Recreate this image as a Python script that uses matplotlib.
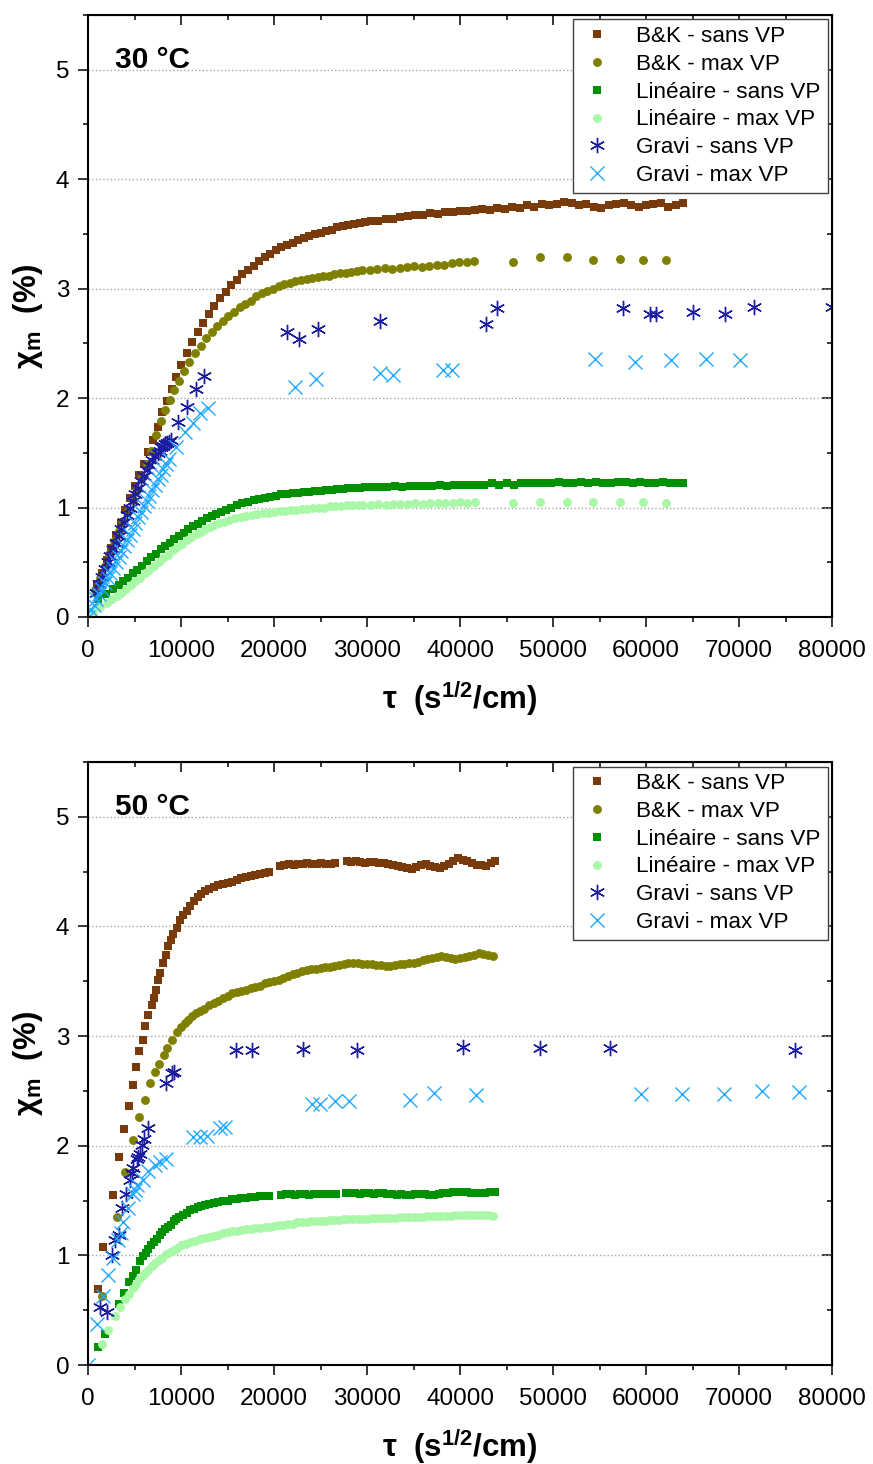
import matplotlib
matplotlib.use('Agg')
import matplotlib.pyplot as plt
from matplotlib.ticker import MultipleLocator

plt.rcParams['font.family'] = ['Liberation Sans', 'DejaVu Sans']
plt.rcParams['mathtext.default'] = 'regular'

labels = ['B&K - sans VP', 'B&K - max VP', 'Linéaire - sans VP',
          'Linéaire - max VP', 'Gravi - sans VP', 'Gravi - max VP']

# ---------------- 30 °C ----------------
t_bk_sans_30 = [1000, 1500, 2000, 2500, 3000, 3500, 4000, 4500, 5000, 5500, 6000, 6500, 7000, 7500, 8000,
                8500, 9000, 9500, 10000, 10600, 11200, 11800, 12400, 13000, 13600, 14200, 14800, 15400,
                16000, 16600, 17200, 17800, 18400, 19000, 19600, 20200, 20800, 21400, 22000, 22600, 23200,
                23800, 24400, 25000, 25600, 26200, 26800, 27400, 28000, 28600, 29200, 29800, 30400, 31200,
                32000, 32800, 33600, 34400, 35200, 36000, 36800, 37600, 38400, 39200, 40000, 40800, 41600,
                42400, 43200, 44000, 44800, 45600, 46400, 47200, 48000, 48800, 49600, 50400, 51200, 52000,
                52800, 53600, 54400, 55200, 56000, 56800, 57600, 58400, 59200, 60000, 60800, 61600, 62400,
                63200, 64000]
chi_bk_sans_30 = [0.30, 0.40, 0.52, 0.63, 0.75, 0.86, 0.98, 1.09, 1.20, 1.30, 1.40, 1.51, 1.62, 1.74, 1.87,
                  1.97, 2.08, 2.19, 2.30, 2.41, 2.51, 2.60, 2.69, 2.77, 2.84, 2.91, 2.97, 3.03,
                  3.08, 3.13, 3.17, 3.21, 3.25, 3.29, 3.32, 3.35, 3.38, 3.40, 3.42, 3.44, 3.46,
                  3.48, 3.50, 3.51, 3.53, 3.54, 3.56, 3.57, 3.58, 3.59, 3.60, 3.61, 3.62, 3.62,
                  3.64, 3.64, 3.65, 3.66, 3.67, 3.67, 3.69, 3.68, 3.70, 3.70, 3.71, 3.71, 3.72,
                  3.73, 3.72, 3.74, 3.73, 3.75, 3.74, 3.76, 3.75, 3.77, 3.76, 3.77, 3.79, 3.78,
                  3.76, 3.77, 3.75, 3.74, 3.76, 3.77, 3.78, 3.76, 3.75, 3.76, 3.77, 3.78, 3.75,
                  3.76, 3.78]

t_bk_max_30 = [800, 1300, 1800, 2300, 2800, 3300, 3800, 4300, 4800, 5300, 5800, 6300, 6800, 7300, 7800,
               8300, 8800, 9300, 9800, 10300, 10900, 11500, 12100, 12700, 13300, 13900, 14500, 15100,
               15700, 16300, 16900, 17500, 18100, 18700, 19300, 19900, 20500, 21100, 21700, 22300, 22900,
               23500, 24100, 24700, 25300, 25900, 26500, 27100, 27700, 28300, 28900, 29500, 30300, 31100,
               31900, 32700, 33500, 34300, 35100, 35900, 36700, 37500, 38300, 39100, 39900, 40700, 41500,
               45700, 48600, 51500, 54300, 57200, 59700, 62100]
chi_bk_max_30 = [0.25, 0.36, 0.47, 0.58, 0.69, 0.79, 0.88, 0.97, 1.07, 1.16, 1.28, 1.40, 1.52, 1.66, 1.79,
                 1.89, 1.98, 2.07, 2.16, 2.25, 2.33, 2.41, 2.48, 2.55, 2.60, 2.66, 2.70, 2.75,
                 2.79, 2.83, 2.86, 2.89, 2.93, 2.96, 2.98, 3.00, 3.02, 3.04, 3.05, 3.07, 3.08,
                 3.09, 3.10, 3.11, 3.12, 3.12, 3.13, 3.14, 3.14, 3.15, 3.16, 3.17, 3.17, 3.18,
                 3.19, 3.18, 3.19, 3.20, 3.21, 3.20, 3.21, 3.22, 3.22, 3.23, 3.24, 3.24, 3.25,
                 3.24, 3.29, 3.29, 3.26, 3.27, 3.26, 3.26]

t_lin_sans_30 = [1100, 1900, 2700, 3300, 3800, 4300, 4800, 5300, 5800, 6300, 6800, 7300, 7800, 8300, 8800,
                 9300, 9800, 10300, 10800, 11300, 11800, 12300, 12800, 13300, 13800, 14300, 14800, 15400,
                 16000, 16600, 17200, 17800, 18400, 19000, 19600, 20200, 20800, 21400, 22000, 22600, 23200,
                 23800, 24400, 25000, 25600, 26200, 26800, 27400, 28000, 28600, 29200, 29800, 30600, 31400,
                 32200, 33000, 33800, 34600, 35400, 36200, 37000, 37800, 38600, 39400, 40200, 41000, 41800,
                 42600, 43400, 44200, 45000, 45800, 46600, 47400, 48200, 49000, 49800, 50600, 51400, 52200,
                 53000, 53800, 54600, 55400, 56200, 57000, 57800, 58600, 59400, 60200, 61000, 61800, 62600,
                 63400, 64000]
chi_lin_sans_30 = [0.16, 0.21, 0.26, 0.29, 0.33, 0.36, 0.40, 0.43, 0.47, 0.51, 0.55, 0.58, 0.62, 0.65, 0.68,
                   0.71, 0.74, 0.77, 0.80, 0.83, 0.85, 0.88, 0.90, 0.92, 0.94, 0.96, 0.98, 1.00,
                   1.02, 1.04, 1.05, 1.07, 1.08, 1.09, 1.10, 1.11, 1.12, 1.12, 1.13, 1.13, 1.14,
                   1.14, 1.15, 1.15, 1.16, 1.16, 1.17, 1.17, 1.18, 1.18, 1.18, 1.19, 1.19, 1.19,
                   1.19, 1.20, 1.19, 1.20, 1.20, 1.20, 1.20, 1.21, 1.20, 1.21, 1.21, 1.21, 1.21,
                   1.21, 1.22, 1.21, 1.22, 1.21, 1.22, 1.22, 1.22, 1.22, 1.22, 1.23, 1.22, 1.22,
                   1.23, 1.22, 1.23, 1.22, 1.22, 1.23, 1.23, 1.22, 1.23, 1.22, 1.22, 1.23, 1.22,
                   1.22, 1.22]

t_lin_max_30 = [500, 1300, 2000, 2600, 3100, 3600, 4100, 4600, 5100, 5600, 6100, 6600, 7100, 7600, 8100,
                8600, 9100, 9600, 10100, 10600, 11100, 11600, 12100, 12600, 13100, 13600, 14100, 14600,
                15200, 15800, 16400, 17000, 17600, 18200, 18800, 19400, 20000, 20600, 21200, 21800, 22400,
                23000, 23600, 24200, 24800, 25400, 26000, 26600, 27200, 27800, 28400, 29000, 29600, 30400,
                31200, 32000, 32800, 33600, 34400, 35200, 36000, 36800, 37600, 38400, 39200, 40000, 40800,
                41600, 45700, 48600, 51500, 54300, 57200, 59700, 62100]
chi_lin_max_30 = [0.05, 0.09, 0.13, 0.16, 0.19, 0.22, 0.26, 0.29, 0.33, 0.36, 0.40, 0.43, 0.47, 0.50, 0.54,
                  0.57, 0.61, 0.64, 0.67, 0.70, 0.73, 0.76, 0.78, 0.80, 0.82, 0.84, 0.86, 0.87,
                  0.89, 0.90, 0.91, 0.92, 0.93, 0.94, 0.95, 0.95, 0.96, 0.97, 0.97, 0.98, 0.98,
                  0.99, 0.99, 1.00, 1.00, 1.00, 1.01, 1.01, 1.01, 1.02, 1.02, 1.02, 1.02, 1.02,
                  1.03, 1.02, 1.03, 1.03, 1.03, 1.04, 1.03, 1.04, 1.04, 1.04, 1.04, 1.05, 1.04,
                  1.05, 1.04, 1.05, 1.05, 1.05, 1.05, 1.05, 1.045]

t_gravi_sans_30 = [900, 1200, 1500, 1800, 2100, 2400, 2700, 3000, 3300, 3600, 3900, 4200, 4500, 4800, 5100,
                   5400, 5700, 6000, 6300, 6600, 6900, 7200, 7500, 7700, 7900, 8100, 8300, 8500, 8700, 8900,
                   9700, 10650, 11600, 12500, 21400, 22700, 24700, 31400, 42800, 44000, 57500, 60400, 61100,
                   65000, 68500, 71600, 80000]
chi_gravi_sans_30 = [0.22, 0.30, 0.37, 0.44, 0.50, 0.56, 0.62, 0.68, 0.74, 0.80, 0.87, 0.93, 1.00, 1.06, 1.12,
                     1.18, 1.24, 1.29, 1.34, 1.39, 1.43, 1.47, 1.50, 1.52, 1.55, 1.56, 1.58, 1.59, 1.60, 1.62,
                     1.78, 1.92, 2.08, 2.20, 2.60, 2.54, 2.63, 2.70, 2.68, 2.82, 2.82, 2.77, 2.77,
                     2.79, 2.77, 2.83, 2.83]

t_gravi_max_30 = [0, 300, 600, 900, 1200, 1500, 1800, 2100, 2400, 2700, 3000, 3300, 3600, 3900, 4200,
                  4500, 4800, 5100, 5400, 5700, 6000, 6300, 6600, 6900, 7200, 7500, 7800, 8100, 8400, 8700,
                  9500, 10400, 11300, 12000, 12900, 22300, 24500, 31400, 32800, 38200, 39100, 54500, 58800,
                  62700, 66500, 70100]
chi_gravi_max_30 = [0.00, 0.06, 0.11, 0.16, 0.21, 0.26, 0.31, 0.36, 0.40, 0.45, 0.50, 0.55, 0.60, 0.65, 0.70,
                    0.75, 0.80, 0.86, 0.91, 0.96, 1.01, 1.06, 1.11, 1.16, 1.21, 1.26, 1.30, 1.35, 1.40, 1.44,
                    1.55, 1.69, 1.77, 1.86, 1.91, 2.10, 2.17, 2.23, 2.21, 2.26, 2.26, 2.36, 2.33,
                    2.35, 2.36, 2.35]

# ---------------- 50 °C ----------------
t_bk_sans_50 = [1110, 1650, 2720, 3370, 3870, 4370, 4800, 5160, 5520, 5880, 6160, 6480, 6840, 7090, 7310,
                7560, 7740, 8100, 8380, 8640, 8890, 9170, 9530, 9890, 10200, 10600, 11000, 11400, 11800,
                12200, 12600, 13000, 13500, 14000, 14500, 15000, 15500, 16000, 16500, 17000, 17500, 18000,
                18500, 19000, 19500, 20600, 21100, 21600, 22100, 22600, 23100, 23600, 24100, 24600, 25100,
                25600, 26100, 26600, 27800, 28300, 28800, 29300, 29800, 30300, 30800, 31300, 31800, 32300,
                32800, 33300, 33800, 34300, 34800, 35300, 35800, 36300, 36800, 37300, 37800, 38300, 38800,
                39300, 39800, 40300, 40800, 41300, 41800, 42300, 42800, 43300, 43800]
chi_bk_sans_50 = [0.69, 1.08, 1.55, 1.90, 2.15, 2.36, 2.55, 2.72, 2.86, 2.96, 3.09, 3.19, 3.28, 3.35, 3.42,
                  3.51, 3.58, 3.67, 3.74, 3.82, 3.88, 3.93, 3.99, 4.06, 4.10, 4.14, 4.19, 4.23, 4.27,
                  4.30, 4.32, 4.34, 4.36, 4.38, 4.39, 4.40, 4.41, 4.42, 4.44, 4.45, 4.46, 4.47,
                  4.48, 4.49, 4.50, 4.55, 4.56, 4.57, 4.56, 4.57, 4.57, 4.58, 4.57, 4.57, 4.58,
                  4.57, 4.57, 4.58, 4.60, 4.59, 4.60, 4.59, 4.58, 4.59, 4.59, 4.58, 4.58, 4.57,
                  4.56, 4.55, 4.54, 4.53, 4.52, 4.54, 4.56, 4.57, 4.55, 4.54, 4.53, 4.55, 4.57,
                  4.60, 4.62, 4.61, 4.60, 4.58, 4.56, 4.56, 4.55, 4.58, 4.60]

t_bk_max_50 = [1470, 3080, 3980, 4870, 5520, 6160, 6660, 7200, 7670, 8170, 8530, 9000, 9530, 10000, 10400,
               10800, 11200, 11600, 12000, 12500, 13000, 13500, 14000, 14500, 15000, 15500, 16000, 16500,
               17000, 17500, 18000, 18500, 19000, 19500, 20000, 20500, 21000, 21500, 22000, 22500, 23000,
               23500, 24000, 24500, 25000, 25500, 26000, 26500, 27000, 27500, 28000, 28500, 29000, 29500,
               30000, 30500, 31000, 31500, 32000, 32500, 33000, 33500, 34000, 34500, 35000, 35500, 36000,
               36500, 37000, 37500, 38000, 38500, 39000, 39500, 40000, 40500, 41000, 41500, 42000, 42500,
               43000, 43600]
chi_bk_max_50 = [0.63, 1.35, 1.76, 2.05, 2.26, 2.42, 2.57, 2.67, 2.75, 2.83, 2.89, 2.96, 3.04, 3.08, 3.12,
                 3.15, 3.18, 3.21, 3.23, 3.25, 3.28, 3.30, 3.32, 3.35, 3.37, 3.39, 3.40, 3.41,
                 3.42, 3.44, 3.45, 3.46, 3.48, 3.49, 3.50, 3.51, 3.53, 3.55, 3.57, 3.58, 3.59,
                 3.60, 3.61, 3.61, 3.62, 3.63, 3.63, 3.64, 3.65, 3.66, 3.67, 3.67, 3.67, 3.66,
                 3.66, 3.66, 3.65, 3.65, 3.64, 3.64, 3.65, 3.66, 3.66, 3.67, 3.67, 3.68, 3.69,
                 3.70, 3.71, 3.72, 3.73, 3.72, 3.71, 3.70, 3.71, 3.72, 3.73, 3.74, 3.76, 3.75,
                 3.74, 3.73]

t_lin_sans_50 = [1110, 1830, 3370, 3900, 4420, 4800, 5160, 5590, 5900, 6200, 6500, 6800, 7100, 7400, 7700,
                 8000, 8300, 8600, 8900, 9200, 9500, 9800, 10200, 10600, 11000, 11400, 11800, 12200, 12600,
                 13000, 13500, 14000, 14500, 15000, 15500, 16000, 16500, 17000, 17500, 18000, 18500, 19000,
                 19500, 20800, 21300, 21800, 22300, 22800, 23300, 23800, 24300, 24800, 25300, 25800, 26300,
                 26700, 27700, 28200, 28700, 29200, 29700, 30200, 30700, 31200, 31700, 32200, 32700, 33200,
                 33700, 34200, 34700, 35200, 35700, 36200, 36700, 37200, 37700, 38200, 38700, 39200, 39700,
                 40200, 40700, 41200, 41700, 42200, 42700, 43200, 43800]
chi_lin_sans_50 = [0.16, 0.28, 0.56, 0.66, 0.76, 0.81, 0.87, 0.95, 0.99, 1.02, 1.06, 1.09, 1.12, 1.15, 1.19,
                   1.21, 1.24, 1.26, 1.28, 1.31, 1.33, 1.35, 1.37, 1.39, 1.41, 1.42, 1.44, 1.45, 1.46,
                   1.47, 1.48, 1.49, 1.50, 1.50, 1.51, 1.51, 1.52, 1.52, 1.53, 1.53, 1.54, 1.54,
                   1.54, 1.55, 1.56, 1.56, 1.55, 1.56, 1.56, 1.55, 1.56, 1.56, 1.56, 1.56, 1.56,
                   1.56, 1.57, 1.57, 1.57, 1.56, 1.57, 1.57, 1.56, 1.57, 1.57, 1.56, 1.56, 1.55,
                   1.56, 1.55, 1.55, 1.56, 1.56, 1.56, 1.55, 1.55, 1.56, 1.57, 1.57, 1.58, 1.58,
                   1.58, 1.58, 1.57, 1.57, 1.57, 1.57, 1.58, 1.58]

t_lin_max_50 = [1470, 2200, 2900, 3400, 3980, 4400, 4870, 5200, 5520, 5800, 6120, 6500, 6840, 7200, 7600,
                8000, 8400, 8800, 9200, 9600, 10000, 10500, 11000, 11500, 12000, 12500, 13000, 13500,
                14000, 14500, 15000, 15500, 16000, 16500, 17000, 17500, 18000, 18500, 19000, 19500, 20000,
                20500, 21000, 21500, 22000, 22500, 23000, 23500, 24000, 24500, 25000, 25500, 26000, 26500,
                27000, 27500, 28000, 28500, 29000, 29500, 30000, 30500, 31000, 31500, 32000, 32500, 33000,
                33500, 34000, 34500, 35000, 35500, 36000, 36500, 37000, 37500, 38000, 38500, 39000, 39500,
                40000, 40500, 41000, 41500, 42000, 42500, 43000, 43600]
chi_lin_max_50 = [0.19, 0.32, 0.45, 0.53, 0.60, 0.65, 0.70, 0.74, 0.78, 0.81, 0.84, 0.87, 0.90, 0.93, 0.96,
                  0.98, 1.01, 1.03, 1.05, 1.07, 1.09, 1.10, 1.12, 1.13, 1.15, 1.16, 1.17, 1.18,
                  1.19, 1.20, 1.21, 1.22, 1.22, 1.23, 1.24, 1.24, 1.25, 1.25, 1.26, 1.26, 1.27,
                  1.28, 1.28, 1.29, 1.29, 1.30, 1.30, 1.30, 1.31, 1.31, 1.31, 1.31, 1.32, 1.32,
                  1.32, 1.33, 1.33, 1.33, 1.33, 1.33, 1.33, 1.34, 1.34, 1.34, 1.34, 1.34, 1.34,
                  1.35, 1.35, 1.35, 1.35, 1.35, 1.35, 1.36, 1.36, 1.36, 1.36, 1.36, 1.36, 1.37,
                  1.37, 1.37, 1.37, 1.37, 1.37, 1.37, 1.37, 1.36]

t_gravi_sans_50 = [1290, 2010, 2540, 2900, 3370, 3620, 4080, 4520, 4700, 4870, 5230, 5400, 5590, 5770, 6020,
                   6490, 8380, 9000, 9250, 15910, 17600, 23080, 28960, 40350, 48600, 56100, 76000]
chi_gravi_sans_50 = [0.53, 0.48, 1.00, 1.14, 1.19, 1.43, 1.56, 1.69, 1.75, 1.80, 1.88, 1.90, 1.92, 2.01, 2.06,
                     2.16, 2.57, 2.66, 2.67, 2.87, 2.87, 2.88, 2.87, 2.90, 2.89, 2.89, 2.87]

t_gravi_max_50 = [0, 1000, 1580, 2190, 2720, 3260, 3500, 3800, 4340, 4800, 5000, 5300, 5880, 6480, 7200,
                  7740, 8380, 11320, 12040, 12760, 14190, 14730, 24040, 24940, 26550, 28100, 34600, 37200,
                  41700, 59500, 63900, 68400, 72500, 76500]
chi_gravi_max_50 = [0.00, 0.37, 0.63, 0.82, 0.98, 1.14, 1.20, 1.30, 1.43, 1.56, 1.60, 1.64, 1.69, 1.77, 1.82,
                    1.85, 1.88, 2.08, 2.08, 2.09, 2.16, 2.17, 2.38, 2.38, 2.41, 2.41, 2.42, 2.48,
                    2.46, 2.47, 2.47, 2.47, 2.50, 2.49]

colors = ['#7A3B0C', '#808000', '#009000', '#A8F8A8', '#1C1CA0', '#1EA8FF']


def draw_panel(ax, series, title):
    # series: list of (t, chi) in legend order
    styles = [dict(marker='s', ms=5.6, mew=0),
              dict(marker='o', ms=6.4, mew=0),
              dict(marker='s', ms=5.6, mew=0),
              dict(marker='o', ms=6.4, mew=0),
              dict(marker=(6, 2, 0), ms=11, mew=1.0),
              dict(marker='x', ms=10.5, mew=1.0)]
    for (t, chi), lab, col, st in zip(series, labels, colors, styles):
        ax.plot(t, chi, linestyle='none', color=col, label=lab, **st)

    ax.set_xlim(0, 80000)
    ax.set_ylim(0, 5.5)
    ax.xaxis.set_major_locator(MultipleLocator(10000))
    ax.xaxis.set_minor_locator(MultipleLocator(5000))
    ax.yaxis.set_major_locator(MultipleLocator(1))
    ax.yaxis.set_minor_locator(MultipleLocator(0.5))
    ax.yaxis.grid(True, which='major', linestyle=':', color='#A8A8A8', linewidth=1.0)
    ax.set_axisbelow(True)
    for sp in ax.spines.values():
        sp.set_linewidth(1.5)
    ax.tick_params(which='major', direction='out', length=7.5, width=1.1, labelsize=17.5)
    ax.tick_params(axis='x', which='major', pad=9)
    ax.tick_params(axis='y', which='major', pad=6)
    ax.tick_params(which='minor', direction='out', length=3.5, width=1.1)

    top = ax.secondary_xaxis('top')
    top.xaxis.set_major_locator(MultipleLocator(10000))
    top.xaxis.set_minor_locator(MultipleLocator(5000))
    top.tick_params(which='major', direction='in', length=7.5, width=1.1, labeltop=False)
    top.tick_params(which='minor', direction='in', length=3.5, width=1.1)
    right = ax.secondary_yaxis('right')
    right.yaxis.set_major_locator(MultipleLocator(1))
    right.yaxis.set_minor_locator(MultipleLocator(0.5))
    right.tick_params(which='major', direction='in', length=7.5, width=1.1, labelright=False)
    right.tick_params(which='minor', direction='in', length=3.5, width=1.1)

    ax.set_xlabel('τ  (s$^{1/2}$/cm)', fontsize=22.5, fontweight='bold', labelpad=12)
    ax.set_ylabel('χ$_{m}$  (%)', fontsize=22.5, fontweight='bold', labelpad=8)
    ax.text(0.036, 0.925, title, transform=ax.transAxes, fontsize=21.5, fontweight='bold', va='center')

    leg = ax.legend(loc='upper right', fontsize=16.2, numpoints=1, borderaxespad=0.2,
                    fancybox=False, framealpha=1, edgecolor='#404040', labelspacing=0.3,
                    handlelength=1.5, handletextpad=1.0, borderpad=0.3)
    leg.get_frame().set_linewidth(1.0)


fig = plt.figure(figsize=(8.73, 14.64), dpi=100)
ax1 = fig.add_axes([88 / 873, 1 - 617 / 1464, 744 / 873, 602 / 1464])
ax2 = fig.add_axes([88 / 873, 1 - 1365 / 1464, 744 / 873, 603 / 1464])

draw_panel(ax1, [(t_bk_sans_30, chi_bk_sans_30), (t_bk_max_30, chi_bk_max_30),
                 (t_lin_sans_30, chi_lin_sans_30), (t_lin_max_30, chi_lin_max_30),
                 (t_gravi_sans_30, chi_gravi_sans_30), (t_gravi_max_30, chi_gravi_max_30)], '30 °C')
draw_panel(ax2, [(t_bk_sans_50, chi_bk_sans_50), (t_bk_max_50, chi_bk_max_50),
                 (t_lin_sans_50, chi_lin_sans_50), (t_lin_max_50, chi_lin_max_50),
                 (t_gravi_sans_50, chi_gravi_sans_50), (t_gravi_max_50, chi_gravi_max_50)], '50 °C')

fig.savefig('out.png', dpi=100)
